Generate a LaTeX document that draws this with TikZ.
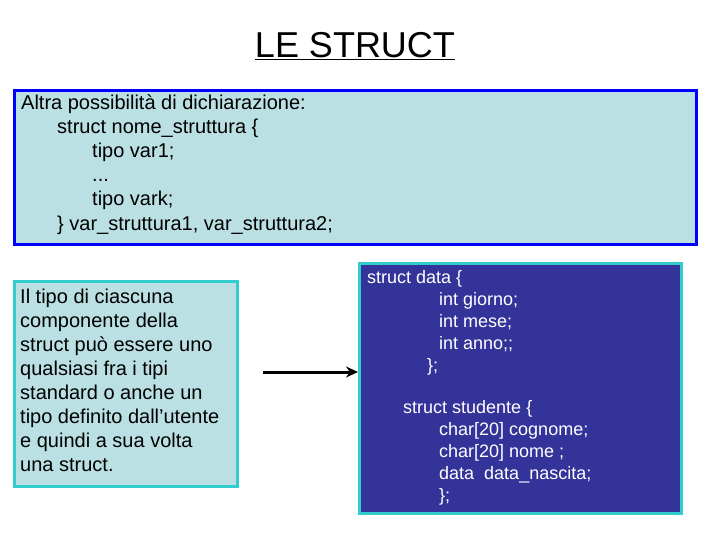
\documentclass[tikz,border=0pt]{standalone}
\usetikzlibrary{arrows.meta}
\usepackage{fontspec}
\setmainfont{Liberation Sans}
\definecolor{lb}{HTML}{BBE0E3}
\definecolor{db}{HTML}{333399}
\definecolor{cy}{HTML}{33CCCC}
\begin{document}
\begin{tikzpicture}[x=1pt,y=-1pt,
  tl/.style={anchor=base west,inner sep=0pt,font=\fontsize{20}{22}\selectfont},
  wl/.style={anchor=base west,inner sep=0pt,font=\fontsize{18}{20}\selectfont,text=white}]
\useasboundingbox (0,0) rectangle (720,540);
\node[font=\fontsize{36}{38}\selectfont,inner sep=0pt] (title) at (355,46) {\underline{LE STRUCT}};
\node[draw=blue,line width=3pt,fill=lb,minimum width=682pt,minimum height=154pt,anchor=north west] (top) at (13,89) {};
\node[tl] (t1) at (21,110) {Altra possibilità di dichiarazione:};
\node[tl] (t2) at (57,134) {struct nome\_struttura \{};
\node[tl] (t3) at (92,158) {tipo var1;};
\node[tl] (t4) at (92,182) {...};
\node[tl] (t5) at (92,206) {tipo vark;};
\node[tl] (t6) at (57,230) {\} var\_struttura1, var\_struttura2;};
\node[draw=cy,line width=3pt,fill=lb,minimum width=223pt,minimum height=205pt,anchor=north west] (left) at (13,280) {};
\foreach \t [count=\i] in {Il tipo di ciascuna,componente della,struct può essere uno,qualsiasi fra i tipi,standard o anche un,tipo definito dall’utente,e quindi a sua volta,una struct.}
  \node[tl] (l\i) at (20,{303+24*(\i-1)}) {\t};
\node[draw=cy,line width=3pt,fill=db,minimum width=322pt,minimum height=250pt,anchor=north west] (right) at (358,262) {};
\node[wl] (r1) at (367,283) {struct data \{};
\node[wl] (r2) at (439,305) {int giorno;};
\node[wl] (r3) at (439,327) {int mese;};
\node[wl] (r4) at (439,349) {int anno;;};
\node[wl] (r5) at (427,371) {\};};
\node[wl] (r6) at (403,413) {struct studente \{};
\node[wl] (r7) at (439,435) {char[20] cognome;};
\node[wl] (r8) at (439,457) {char[20] nome ;};
\node[wl] (r9) at (439,479) {data\ \ data\_nascita;};
\node[wl] (r10) at (439,501) {\};};
\coordinate (a0) at (263,372);
\draw[line width=3pt,-{Stealth[length=12pt,width=11pt]}] (a0) -- (right.west |- a0);
\end{tikzpicture}
\end{document}
